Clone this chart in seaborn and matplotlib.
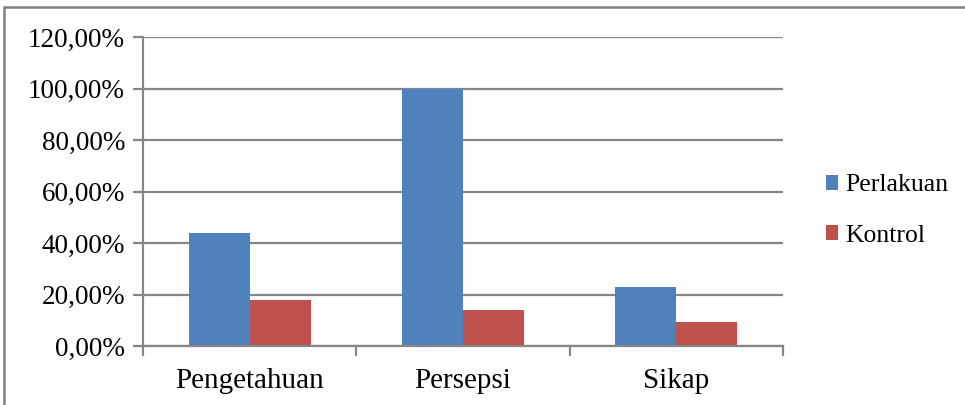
import pandas as pd
import matplotlib
matplotlib.use("Agg")
import matplotlib.pyplot as plt
import seaborn as sns
from matplotlib.patches import Patch, Rectangle
from matplotlib.ticker import FuncFormatter, FixedLocator

# Data (percent)
categories = ["Pengetahuan", "Persepsi", "Sikap"]
perlakuan = [43.8, 100.0, 22.8]
kontrol = [17.9, 14.0, 9.2]
series_names = ["Perlakuan", "Kontrol"]
colors = ["#4F81BD", "#C0504D"]

df = pd.DataFrame({
    "Kategori": categories * 2,
    "Nilai": perlakuan + kontrol,
    "Kelompok": [series_names[0]] * 3 + [series_names[1]] * 3,
})

sns.set_style("white")
plt.rcParams["font.family"] = ["Liberation Serif", "DejaVu Serif"]
plt.rcParams["text.color"] = "black"

grid_color = "#868686"

fig = plt.figure(figsize=(9.65, 4.05), dpi=100)
ax = fig.add_axes([143 / 965, 59 / 405, 640 / 965, 309 / 405])

sns.barplot(data=df, x="Kategori", y="Nilai", hue="Kelompok",
            palette=colors, width=0.573, gap=0, saturation=1,
            edgecolor="none", legend=False, ax=ax)

ax.set_ylim(0, 120)
ax.set_xlim(-0.5, 2.5)
ax.set_yticks(range(0, 121, 20))
ax.yaxis.set_major_formatter(FuncFormatter(lambda v, p: f"{v:.2f}".replace(".", ",") + "%"))
ax.yaxis.grid(True, color=grid_color, linewidth=1.6)
ax.set_axisbelow(True)
ax.set_xlabel("")
ax.set_ylabel("")

for side in ["top", "right"]:
    ax.spines[side].set_visible(False)
for side in ["left", "bottom"]:
    ax.spines[side].set_color(grid_color)
    ax.spines[side].set_linewidth(1.6)

# category ticks: labels centered, tick marks at boundaries
ax.tick_params(axis="x", which="major", length=0, pad=16, labelsize=21, labelcolor="black")
ax.xaxis.set_minor_locator(FixedLocator([-0.5, 0.5, 1.5, 2.5]))
ax.tick_params(axis="x", which="minor", length=7, width=1.6, color=grid_color, direction="out")
ax.tick_params(axis="y", length=7, width=1.6, color=grid_color, direction="out", pad=6,
               labelsize=19.5, labelcolor="black")
ax.tick_params(left=True, bottom=False)
ax.xaxis.set_tick_params(which="minor", bottom=True)

handles = [Patch(facecolor=c, edgecolor="none") for c in colors]
fig.legend(handles, series_names, loc="center left", bbox_to_anchor=(826 / 965, 0.48),
           frameon=False, borderpad=0, borderaxespad=0, handlelength=0.45, handleheight=0.5,
           handletextpad=0.3, labelspacing=1.1, fontsize=18.5)

# outer border like the original chart frame
fig.patches.append(Rectangle((4 / 965, -0.1), 1.2, 1.1 - 7 / 405, transform=fig.transFigure,
                             fill=False, edgecolor="#7f7f7f", linewidth=1.8))

fig.savefig("out.png", dpi=100)
